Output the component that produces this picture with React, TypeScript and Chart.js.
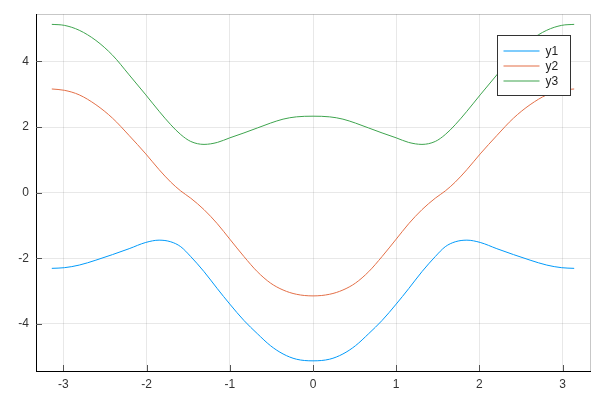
import React, { useEffect, useRef } from 'react';
import { Chart, registerables } from 'chart.js';

Chart.register(...registerables);

const xValues = [
  -3.14, -2.99, -2.81, -2.61, -2.41, -2.21, -2.01, -1.85, -1.71, -1.59, -1.47, -1.31, -1.15, -1.0, -0.83, -0.67, -0.51, -0.36, -0.2, 0,
  0.2, 0.36, 0.51, 0.67, 0.83, 1.0, 1.15, 1.31, 1.47, 1.59, 1.71, 1.85, 2.01, 2.21, 2.41, 2.61, 2.81, 2.99, 3.14,
];

const y1 = [
  -2.31, -2.29, -2.21, -2.06, -1.89, -1.71, -1.52, -1.45, -1.5, -1.65, -1.95, -2.41, -2.93, -3.4, -3.9, -4.3, -4.67, -4.92, -5.08, -5.13,
  -5.08, -4.92, -4.67, -4.3, -3.9, -3.4, -2.93, -2.41, -1.95, -1.65, -1.5, -1.45, -1.52, -1.71, -1.89, -2.06, -2.21, -2.29, -2.31,
];

const y2 = [
  3.16, 3.12, 2.98, 2.68, 2.27, 1.74, 1.18, 0.7, 0.32, 0.05, -0.17, -0.52, -0.95, -1.42, -1.95, -2.41, -2.76, -2.97, -3.1, -3.15,
  -3.1, -2.97, -2.76, -2.41, -1.95, -1.42, -0.95, -0.52, -0.17, 0.05, 0.32, 0.7, 1.18, 1.74, 2.27, 2.68, 2.98, 3.12, 3.16,
];

const y3 = [
  5.13, 5.1, 4.95, 4.64, 4.19, 3.59, 2.98, 2.48, 2.07, 1.77, 1.56, 1.47, 1.53, 1.67, 1.82, 1.97, 2.12, 2.24, 2.31, 2.33,
  2.31, 2.24, 2.12, 1.97, 1.82, 1.67, 1.53, 1.47, 1.56, 1.77, 2.07, 2.48, 2.98, 3.59, 4.19, 4.64, 4.95, 5.1, 5.13,
];

const seriesLabels = ['y1', 'y2', 'y3'];
const seriesColors = ['#009AFA', '#E36F47', '#3EA44E'];
const xTicks = [-3, -2, -1, 0, 1, 2, 3];
const yTicks = [-4, -2, 0, 2, 4];

const FONT = '"Liberation Sans", Arial, sans-serif';

const framePlugin = {
  id: 'frameAndLegend',
  afterDraw(chart: any) {
    const ctx = chart.ctx;
    const area = chart.chartArea;
    const xs = chart.scales.x;
    const ys = chart.scales.y;
    ctx.save();
    ctx.strokeStyle = 'rgba(0,0,0,0.22)';
    ctx.lineWidth = 1;
    ctx.beginPath();
    ctx.moveTo(Math.round(area.left) + 0.5, Math.round(area.top) + 0.5);
    ctx.lineTo(Math.round(area.right) + 0.5, Math.round(area.top) + 0.5);
    ctx.lineTo(Math.round(area.right) + 0.5, Math.round(area.bottom) + 0.5);
    ctx.stroke();
    ctx.strokeStyle = '#555';
    ctx.beginPath();
    yTicks.forEach((v) => {
      const py = Math.round(ys.getPixelForValue(v)) + 0.5;
      ctx.moveTo(area.left, py);
      ctx.lineTo(area.left + 6, py);
    });
    xTicks.forEach((v) => {
      const px = Math.round(xs.getPixelForValue(v)) + 0.5;
      ctx.moveTo(px, area.bottom);
      ctx.lineTo(px, area.bottom - 6);
    });
    ctx.stroke();
    const bw = 73;
    const bh = 60;
    const bx = Math.round(area.right - 20 - bw) + 0.5;
    const by = Math.round(area.top + 21) + 0.5;
    ctx.fillStyle = '#fff';
    ctx.fillRect(bx, by, bw, bh);
    ctx.strokeStyle = '#333';
    ctx.lineWidth = 1;
    ctx.strokeRect(bx, by, bw, bh);
    ctx.font = '12px ' + FONT;
    ctx.textBaseline = 'middle';
    ctx.textAlign = 'left';
    chart.data.datasets.forEach((ds: any, i: number) => {
      const ry = Math.round(by + 15 + i * 15.2);
      ctx.strokeStyle = ds.borderColor;
      ctx.lineWidth = 1.2;
      ctx.beginPath();
      ctx.moveTo(bx + 6, ry);
      ctx.lineTo(bx + 42, ry);
      ctx.stroke();
      ctx.fillStyle = '#222';
      ctx.fillText(ds.label, bx + 48, ry + 0.5);
    });
    ctx.restore();
  },
};

export default function App() {
  const ref = useRef<HTMLCanvasElement>(null);
  useEffect(() => {
    document.body.style.margin = '0';
    const canvas = ref.current;
    if (!canvas) return;
    const chart = new Chart(canvas, {
      type: 'line',
      data: {
        datasets: [y1, y2, y3].map((ys, i) => ({
          label: seriesLabels[i],
          data: xValues.map((x, j) => ({ x, y: ys[j] })),
          borderColor: seriesColors[i],
          backgroundColor: seriesColors[i],
          borderWidth: 1,
          pointRadius: 0,
          cubicInterpolationMode: 'monotone',
          fill: false,
        })),
      },
      options: {
        responsive: false,
        animation: false,
        layout: { padding: { top: 12, right: 10, left: 0, bottom: 0 } },
        plugins: { legend: { display: false }, tooltip: { enabled: false } },
        scales: {
          x: {
            type: 'linear',
            min: -3.33,
            max: 3.33,
            afterFit: (s: any) => { s.height = 29; },
            afterBuildTicks: (s: any) => { s.ticks = xTicks.map((v) => ({ value: v })); },
            grid: { color: 'rgba(0,0,0,0.09)', drawTicks: false },
            border: { color: '#000', width: 1 },
            ticks: {
              padding: 6,
              color: '#333',
              font: { family: FONT, size: 12 },
              callback: (v: any) => String(v),
              maxRotation: 0,
            },
          },
          y: {
            type: 'linear',
            min: -5.44,
            max: 5.44,
            afterFit: (s: any) => { s.width = 36; },
            afterBuildTicks: (s: any) => { s.ticks = yTicks.map((v) => ({ value: v })); },
            grid: { color: 'rgba(0,0,0,0.09)', drawTicks: false },
            border: { color: '#000', width: 1 },
            ticks: {
              padding: 7,
              color: '#333',
              font: { family: FONT, size: 12 },
              callback: (v: any) => String(v),
            },
          },
        },
      },
      plugins: [framePlugin],
    });
    return () => chart.destroy();
  }, []);
  return (
    <div style={{ width: 600, height: 400 }}>
      <canvas ref={ref} width={600} height={400} />
    </div>
  );
}
